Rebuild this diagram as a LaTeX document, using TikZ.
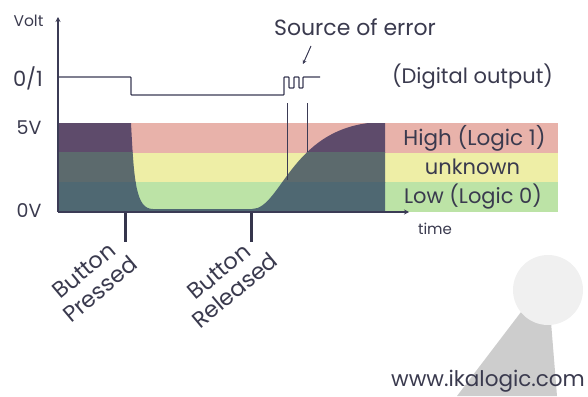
\documentclass[tikz,border=0pt]{standalone}
\usepackage{fontspec}
\setmainfont{Poppins}
\usetikzlibrary{arrows.meta}

\definecolor{bandhigh}{HTML}{E8B2AA}
\definecolor{bandmid}{HTML}{EEEEA6}
\definecolor{bandlow}{HTML}{BCE3A6}
\definecolor{sighigh}{HTML}{5E4B6B}
\definecolor{sigmid}{HTML}{5C6A6D}
\definecolor{siglow}{HTML}{4F6872}
\definecolor{ink}{HTML}{3B3B55}
\definecolor{txt}{HTML}{3A3A4E}
\definecolor{wmcircle}{HTML}{F0F0F0}
\definecolor{wmbeam}{HTML}{CDCDCD}

% analog button voltage: high, fast drop on press, slow RC rise on release
\newcommand\sigshape{(58,123) -- (131,123) .. controls (134,182) and (136,209) .. (153,209)
  -- (252,209) .. controls (282,209) and (292,122) .. (385,122) -- (385,212) -- (58,212) -- cycle}

\newcommand\fsz[1]{\fontsize{#1}{#1}\selectfont}

\tikzset{
  lbl/.style={text=txt, inner sep=0pt, font=\fsz{21}},
  axisline/.style={draw=ink, line width=1.4pt, -{Stealth[length=5pt,width=5pt]}},
  digital/.style={draw=ink, line width=1.2pt},
  marker/.style={draw=ink, line width=1pt},
  press/.style={draw=ink!90!black, line width=3pt},
  event/.style={lbl, align=center, rotate=40, font=\fontsize{22.5}{25}\selectfont},
}

\begin{document}
\begin{tikzpicture}[x=1pt,y=-1pt]
\useasboundingbox (0,0) rectangle (588,396);

% watermark
\fill[wmbeam] (521,312) -- (551,322) -- (557,396) -- (457,396) -- cycle;
\fill[wmcircle] (548,290) circle (35);

% logic level bands
\fill[bandhigh] (58,123) rectangle (558,152.5);
\fill[bandmid] (58,152.5) rectangle (558,182);
\fill[bandlow] (58,182) rectangle (558,212);

% signal, shaded per band
\begin{scope}
  \clip (58,123) rectangle (558,152.5);
  \fill[sighigh] \sigshape;
\end{scope}
\begin{scope}
  \clip (58,152.5) rectangle (558,182);
  \fill[sigmid] \sigshape;
\end{scope}
\begin{scope}
  \clip (58,182) rectangle (558,212);
  \fill[siglow] \sigshape;
\end{scope}

% axes
\coordinate (origin) at (58,212);
\coordinate (ytop) at (58,17);
\coordinate (xend) at (409,212);
\draw[axisline] (origin) -- (ytop);
\draw[axisline] (origin) -- (xend);

% digital output with glitch
\draw[digital, rounded corners=0.8pt] (58,77) -- (131,77) -- (131,95) -- (284,95)
  -- (284,77) -- (289,77) -- (289,88) -- (294,88) -- (294,77) -- (299,77)
  -- (299,88) -- (303,88) -- (303,77) -- (320,77);

% threshold crossings
\coordinate (lowtop) at (287,103);
\coordinate (lowcross) at (287,180);
\coordinate (hightop) at (307,103);
\coordinate (highcross) at (307,152);
\draw[marker] (lowtop) -- (lowcross);
\draw[marker] (hightop) -- (highcross);

% button events
\coordinate (pressA) at (125,213);
\coordinate (pressB) at (125,242);
\coordinate (relA) at (251,213);
\coordinate (relB) at (251,242);
\draw[press] (pressA) -- (pressB);
\draw[press] (relA) -- (relB);

% labels
\node[lbl, font=\fsz{15.5}] (volt) at (28.5,21) {Volt};
\node[lbl] (digi) at (28,78) {0/1};
\node[lbl, font=\fsz{19}] (five) at (29,128) {5V};
\node[lbl, font=\fsz{19}] (zero) at (29,211) {0V};
\node[lbl, font=\fsz{15}] (time) at (435,229) {time};
\node[lbl, font=\fsz{22}] (src) at (355,27) {Source of error};
\coordinate (srcarrow) at (311,46);
\coordinate (srctip) at (303,64);
\draw[ink, line width=1pt, -{Stealth[length=4pt,width=4pt]}] (srcarrow) -- (srctip);
\node[lbl] (dout) at (472.5,77) {(Digital output)};
\node[lbl, font=\fsz{21.5}] (high) at (474.5,138) {High (Logic 1)};
\node[lbl] (unk) at (472.5,167) {unknown};
\node[lbl] (low) at (473,197) {Low (Logic 0)};
\node[event] (pressed) at (92,280) {Button\\Pressed};
\node[event] (released) at (227,281) {Button\\Released};
\node[lbl, font=\fsz{21.5}] (www) at (488,381) {www.ikalogic.com};
\end{tikzpicture}
\end{document}
